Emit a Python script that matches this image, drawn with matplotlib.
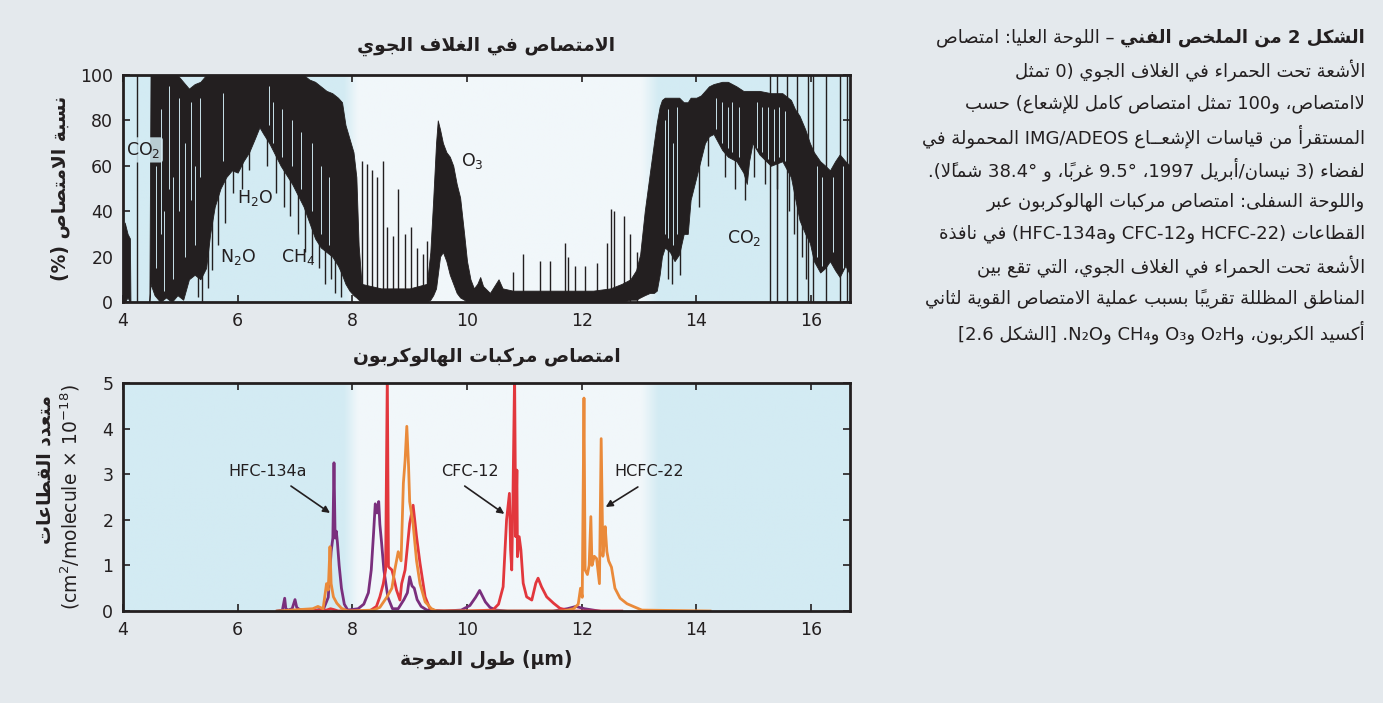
import re
import numpy as np
import matplotlib
matplotlib.use('Agg')
import matplotlib.pyplot as plt
from matplotlib.colors import LinearSegmentedColormap

# ---------------- data ----------------
# upper panel: envelope of the measured absorption spectrum (%)
atm_wl = [4.00, 4.03, 4.08, 4.12, 4.13, 4.46, 4.48, 4.55, 4.65, 4.75,
          4.85, 4.95, 5.05, 5.15, 5.25, 5.35, 5.45, 5.52, 5.60, 5.70,
          5.80, 5.90, 6.00, 6.10, 6.20, 6.30, 6.38, 6.45, 6.55, 6.65,
          6.75, 6.85, 6.95, 7.05, 7.15, 7.25, 7.35, 7.45, 7.55, 7.65,
          7.75, 7.82, 7.88, 7.95, 8.02, 8.07, 8.11, 8.16, 8.50, 9.00,
          9.30, 9.36, 9.41, 9.46, 9.49, 9.53, 9.58, 9.64, 9.70, 9.76,
          9.82, 9.88, 9.95, 10.00, 10.06, 10.12, 10.18, 10.23, 10.28, 10.40,
          10.50, 10.55, 10.62, 10.80, 11.50, 12.20, 12.50, 12.70, 12.85, 12.95,
          13.02, 13.10, 13.19, 13.26, 13.31, 13.36, 13.40, 13.45, 13.54, 13.62,
          13.70, 13.78, 13.85, 13.90, 14.00, 14.08, 14.15, 14.22, 14.30, 14.45,
          14.55, 14.70, 14.82, 14.88, 14.92, 14.98, 15.10, 15.30, 15.50, 15.65,
          15.72, 15.80, 15.90, 15.98, 16.05, 16.16, 16.25, 16.33, 16.42, 16.50,
          16.60, 16.68]
atm_hi = [25, 35, 30, 28, 0, 0, 100, 100, 100, 100,
          100, 100, 97, 94, 96, 97, 100, 100, 100, 100,
          100, 100, 100, 100, 100, 100, 100, 100, 100, 100,
          100, 100, 100, 100, 100, 98, 97, 95, 93, 92,
          90, 88, 78, 72, 66, 55, 25, 8, 6, 6,
          8, 22, 45, 70, 80, 76, 70, 66, 64, 60,
          52, 46, 30, 18, 10, 6, 8, 11, 7, 4,
          8, 10, 6, 5, 5, 5, 6, 8, 10, 14,
          21, 40, 57, 70, 79, 86, 89, 90, 90, 90,
          90, 88, 88, 90, 90, 91, 93, 95, 96, 97,
          97, 95, 93, 93, 93, 93, 93, 92, 92, 89,
          85, 82, 76, 70, 66, 62, 60, 58, 62, 65,
          62, 60]
atm_lo = [0, 0, 2, 0, 0, 0, 8, 3, 0, 2,
          0, 3, 1, 10, 12, 10, 15, 30, 42, 50,
          55, 58, 57, 62, 66, 72, 77, 74, 70, 65,
          60, 56, 52, 47, 42, 35, 28, 24, 22, 20,
          16, 12, 8, 5, 3, 2, 1, 0, 0, 0,
          0, 1, 3, 6, 12, 20, 22, 18, 12, 8,
          4, 2, 1, 0, 0, 0, 0, 0, 0, 0,
          0, 0, 0, 0, 0, 0, 0, 0, 1, 1,
          2, 3, 4, 4, 5, 12, 20, 24, 22, 18,
          21, 30, 30, 45, 55, 63, 70, 73, 74, 67,
          64, 62, 57, 52, 62, 70, 65, 60, 62, 55,
          46, 36, 30, 26, 18, 13, 15, 18, 14, 11,
          16, 12]
# single dark lines (isolated lines in the window, fringes under the bands)
line_wl = [4.24, 8.16, 8.25, 8.34, 8.43, 8.53, 8.60, 8.71, 8.80, 8.92,
           9.03, 9.12, 9.24, 9.30, 10.81, 10.98, 11.27, 11.45, 11.71, 11.76,
           11.88, 12.06, 12.26, 12.44, 12.52, 12.56, 12.73, 12.84, 12.96, 15.29,
           15.40, 15.58, 15.75, 15.95, 16.03, 16.27, 16.50, 16.62,
           5.30, 5.38, 5.48, 5.56, 5.65, 5.78, 5.92, 6.08, 6.20, 6.52,
           6.66, 6.80, 6.92, 7.05, 7.18, 7.30, 7.42, 7.52, 7.62, 7.70,
           7.80, 13.50, 13.58, 13.72, 14.05, 14.20, 14.50, 14.68, 14.85, 15.00,
           15.20, 15.40, 15.62, 15.70, 15.85, 15.92]
line_lo = [0, 0, 0, 0, 0, 0, 0, 0, 0, 0,
           0, 0, 0, 0, 0, 0, 0, 0, 0, 0,
           0, 0, 0, 0, 0, 0, 0, 0, 0, 0,
           0, 0, 0, 0, 0, 0, 0, 0,
           2, 0, 6, 14, 25, 35, 48, 50, 58, 60,
           48, 42, 38, 30, 22, 18, 15, 8, 10, 4,
           2, 10, 8, 12, 42, 60, 55, 50, 45, 55,
           52, 50, 40, 30, 20, 10]
line_hi = [100, 62, 61, 58, 55, 62, 33, 29, 50, 30,
           33, 24, 21, 27, 13, 21, 18, 18, 26, 20,
           16, 16, 17, 26, 41, 40, 38, 30, 22, 100,
           100, 100, 100, 100, 100, 100, 100, 100,
           40, 40, 50, 60, 70, 80, 80, 80, 90, 90,
           90, 90, 90, 90, 80, 80, 80, 80, 70, 70,
           70, 85, 85, 85, 85, 85, 85, 85, 85, 85,
           85, 85, 80, 75, 70, 60]
# light streaks between lines inside the dark bands
gap_wl = [4.58, 4.66, 4.72, 4.80, 4.88, 4.97, 5.08, 5.18, 5.26, 5.34,
          5.75, 6.55, 6.62, 6.78, 6.95, 7.10, 7.30, 7.45, 7.60, 13.45,
          13.50, 13.60, 13.66, 14.35, 14.45, 14.55, 14.62, 14.75, 15.05, 15.15,
          15.25, 15.35, 15.45, 15.55, 16.10, 16.20, 16.38, 16.55]
gap_lo = [15, 30, 5, 50, 10, 40, 20, 45, 25, 55,
          62, 78, 70, 64, 60, 50, 40, 30, 25, 30,
          28, 25, 30, 76, 70, 68, 66, 64, 68, 66,
          63, 62, 64, 62, 20, 16, 22, 15]
gap_hi = [60, 85, 40, 95, 55, 90, 70, 88, 60, 90,
          92, 95, 88, 85, 80, 75, 70, 60, 55, 80,
          85, 70, 86, 90, 88, 86, 88, 86, 88, 86,
          86, 85, 86, 84, 60, 55, 55, 60]

# lower panel: halocarbon absorption cross sections (1e-18 cm2/molecule)
hfc_wl = [6.69, 6.78, 6.82, 6.84, 6.88, 6.95, 7.00, 7.03, 7.08, 7.30,
          7.50, 7.58, 7.63, 7.66, 7.68, 7.70, 7.72, 7.74, 7.77, 7.81,
          7.86, 7.92, 8.10, 8.20, 8.28, 8.33, 8.37, 8.40, 8.43, 8.46,
          8.48, 8.51, 8.55, 8.62, 8.70, 8.80, 8.90, 8.96, 9.00, 9.04,
          9.08, 9.13, 9.20, 9.30, 9.60, 9.90, 10.05, 10.15, 10.22, 10.26,
          10.32, 10.40, 10.50, 10.70, 11.50, 11.75, 11.90, 12.05, 12.30]
hfc_xs = [0.0, 0.02, 0.28, 0.05, 0.02, 0.05, 0.25, 0.08, 0.03, 0.0,
          0.05, 0.3, 1.3, 1.6, 3.25, 1.6, 1.75, 1.5, 1.0, 0.5,
          0.15, 0.02, 0.05, 0.15, 0.4, 0.9, 1.7, 2.35, 2.15, 2.4,
          1.9, 1.5, 0.9, 0.3, 0.05, 0.05, 0.25, 0.4, 0.75, 0.55,
          0.5, 0.25, 0.1, 0.02, 0.0, 0.02, 0.12, 0.3, 0.45, 0.35,
          0.2, 0.08, 0.02, 0.0, 0.0, 0.05, 0.1, 0.05, 0.0]
cfc_wl = [7.00, 7.55, 7.62, 7.68, 7.75, 8.30, 8.42, 8.48, 8.54, 8.58,
          8.61, 8.63, 8.69, 8.72, 8.77, 8.83, 8.86, 8.92, 9.00, 9.06,
          9.12, 9.18, 9.27, 9.35, 9.45, 10.00, 10.45, 10.55, 10.63, 10.69,
          10.74, 10.76, 10.78, 10.80, 10.83, 10.85, 10.87, 10.88, 10.91, 10.94,
          10.98, 11.04, 11.13, 11.20, 11.24, 11.30, 11.39, 11.51, 11.62, 11.80,
          12.70]
cfc_xs = [0.0, 0.02, 0.05, 0.03, 0.0, 0.0, 0.1, 0.31, 0.6, 0.9,
          5.2, 0.97, 0.9, 0.75, 0.46, 0.24, 0.6, 0.9, 1.92, 2.32,
          1.63, 1.05, 0.31, 0.06, 0.0, 0.0, 0.02, 0.15, 0.53, 2.0,
          2.58, 1.34, 0.9, 2.36, 5.2, 1.63, 3.09, 1.19, 1.63, 1.34,
          0.61, 0.31, 0.24, 0.61, 0.72, 0.53, 0.31, 0.17, 0.06, 0.0,
          0.0]
hcfc_wl = [6.69, 7.31, 7.40, 7.49, 7.55, 7.58, 7.61, 7.63, 7.67, 7.73,
           7.81, 7.92, 8.37, 8.48, 8.60, 8.69, 8.74, 8.80, 8.85, 8.89,
           8.92, 8.95, 8.98, 9.00, 9.06, 9.12, 9.18, 9.27, 9.38, 9.47,
           11.68, 11.86, 11.94, 11.98, 12.01, 12.04, 12.06, 12.10, 12.13, 12.16,
           12.18, 12.22, 12.26, 12.31, 12.34, 12.37, 12.39, 12.41, 12.44, 12.47,
           12.52, 12.58, 12.67, 12.79, 12.90, 13.05, 14.24]
hcfc_xs = [0.0, 0.05, 0.1, 0.05, 0.6, 0.46, 1.41, 0.6, 0.31, 0.17,
           0.06, 0.0, 0.02, 0.08, 0.3, 0.5, 0.9, 1.3, 1.1, 2.8,
           3.3, 4.05, 3.2, 2.4, 1.9, 1.1, 0.6, 0.2, 0.05, 0.0,
           0.0, 0.05, 0.15, 0.5, 0.3, 4.67, 0.9, 0.8, 1.0, 2.07,
           1.0, 1.2, 1.15, 0.6, 3.78, 1.2, 1.5, 1.85, 1.3, 1.1,
           0.96, 0.5, 0.28, 0.16, 0.1, 0.02, 0.0]

# labels
title_top = "الامتصاص في الغلاف الجوي"
title_bot = "امتصاص مركبات الهالوكربون"
ylabel_top = "نسبة الامتصاص (%)"
ylabel_bot = "متعدد القطاعات"
ylabel_bot_unit = r"(cm$^2$/molecule$\,\times\,$10$^{-18}$)"
xlabel_bot = "طول الموجة (μm)"
caption_bold = "الشكل 2 من الملخص الفني"
caption_lines = [
    " – اللوحة العليا: امتصاص",
    "الأشعة تحت الحمراء في الغلاف الجوي (0 تمثل",
    "لاامتصاص، و100 تمثل امتصاص كامل للإشعاع) حسب",
    "المستقرأ من قياسات الإشعــاع IMG/ADEOS المحمولة في",
    "لفضاء (3 نيسان/أبريل 1997، 9.5° غرباً، و 38.4° شمالاً).",
    "واللوحة السفلى: امتصاص مركبات الهالوكربون عبر",
    "القطاعات (HCFC-22 وCFC-12 وHFC-134a) في نافذة",
    "الأشعة تحت الحمراء في الغلاف الجوي، التي تقع بين",
    "المناطق المظللة تقريباً بسبب عملية الامتصاص القوية لثاني",
    "أكسيد الكربون، وO₂H وO₃ وCH₄ وN₂O. [الشكل 2.6]",
]

# ---------------- minimal Arabic shaping + reordering ----------------
# matplotlib has no text shaping, so map letters to presentation forms
AR = {'ء': (0xFE80, 1), 'آ': (0xFE81, 2), 'أ': (0xFE83, 2), 'ؤ': (0xFE85, 2),
      'إ': (0xFE87, 2), 'ئ': (0xFE89, 4), 'ا': (0xFE8D, 2), 'ب': (0xFE8F, 4),
      'ة': (0xFE93, 2), 'ت': (0xFE95, 4), 'ث': (0xFE99, 4), 'ج': (0xFE9D, 4),
      'ح': (0xFEA1, 4), 'خ': (0xFEA5, 4), 'د': (0xFEA9, 2), 'ذ': (0xFEAB, 2),
      'ر': (0xFEAD, 2), 'ز': (0xFEAF, 2), 'س': (0xFEB1, 4), 'ش': (0xFEB5, 4),
      'ص': (0xFEB9, 4), 'ض': (0xFEBD, 4), 'ط': (0xFEC1, 4), 'ظ': (0xFEC5, 4),
      'ع': (0xFEC9, 4), 'غ': (0xFECD, 4), 'ف': (0xFED1, 4), 'ق': (0xFED5, 4),
      'ك': (0xFED9, 4), 'ل': (0xFEDD, 4), 'م': (0xFEE1, 4), 'ن': (0xFEE5, 4),
      'ه': (0xFEE9, 4), 'و': (0xFEED, 2), 'ى': (0xFEEF, 2), 'ي': (0xFEF1, 4)}
LAM_ALEF = {'آ': (0xFEF5, 0xFEF6), 'أ': (0xFEF7, 0xFEF8),
            'إ': (0xFEF9, 0xFEFA), 'ا': (0xFEFB, 0xFEFC)}
MARKS = set(chr(c) for c in range(0x064B, 0x0653))
TATWEEL = 'ـ'
MIRROR = {'(': ')', ')': '(', '[': ']', ']': '['}


def joins_next(c):
    return c == TATWEEL or (c in AR and AR[c][1] == 4)


def shape(s):
    out = []
    i = 0
    while i < len(s):
        c = s[i]
        if c not in AR:
            out.append(c)
            i += 1
            continue
        j = i - 1
        while j >= 0 and s[j] in MARKS:
            j -= 1
        prev_join = j >= 0 and joins_next(s[j])
        k = i + 1
        while k < len(s) and s[k] in MARKS:
            k += 1
        nxt = s[k] if k < len(s) else None
        if c == 'ل' and nxt in LAM_ALEF:
            iso, fin = LAM_ALEF[nxt]
            out.append(chr(fin if prev_join else iso))
            out.extend(s[i + 1:k])
            i = k + 1
            continue
        start, n = AR[c]
        next_join = n == 4 and nxt is not None and (nxt in AR or nxt == TATWEEL)
        if n == 1:
            f = start
        elif prev_join and next_join:
            f = start + 3
        elif prev_join:
            f = start + 1
        elif next_join:
            f = start + 2
        else:
            f = start
        out.append(chr(f))
        i += 1
    return ''.join(out)


def flip(t):
    # reverse a right-to-left run, keeping combining marks after their base
    clusters = []
    for c in t:
        if c in MARKS and clusters:
            clusters[-1] += c
        else:
            clusters.append(MIRROR.get(c, c))
    return ''.join(reversed(clusters))


LTR_RE = re.compile(r'[A-Za-z0-9\u2080-\u2089\u00b5\u03bc]+'
                    r'(?:[-./][A-Za-z0-9\u2080-\u2089]+)*\u00b0?')
ARAB_RE = re.compile(r'[\u0600-\u06FF\uFE70-\uFEFF]+(?:\s+[\u0600-\u06FF\uFE70-\uFEFF]+)*')


def ar(s, rtl=True):
    s = shape(s)
    if not rtl:
        return ARAB_RE.sub(lambda m: flip(m.group()), s)
    parts, pos = [], 0
    for m in LTR_RE.finditer(s):
        if m.start() > pos:
            parts.append(flip(s[pos:m.start()]))
        parts.append(m.group())
        pos = m.end()
    if pos < len(s):
        parts.append(flip(s[pos:]))
    return ''.join(reversed(parts))


# ---------------- figure ----------------
W, H = 1383, 703
ink = '#231f20'
bg = '#e4e9ed'
shade = '#d3ebf3'
window = '#f1f7fa'
plt.rcParams['font.family'] = ['DejaVu Sans']
plt.rcParams['text.color'] = ink
plt.rcParams['axes.edgecolor'] = ink
plt.rcParams['xtick.color'] = ink
plt.rcParams['ytick.color'] = ink

fig = plt.figure(figsize=(W / 100, H / 100), dpi=100, facecolor=bg)
ax1 = fig.add_axes([123 / W, 1 - 302 / H, 727 / W, 227 / H])
ax2 = fig.add_axes([123 / W, 1 - 611 / H, 727 / W, 228 / H])


def fx(px):
    return px / W


def fy(px):
    return 1 - px / H


cmap = LinearSegmentedColormap.from_list('win', [shade, window])
xs = np.linspace(4, 16.68, 600)
win = np.clip(np.minimum((xs - 7.85) / 0.25, (13.35 - xs) / 0.3), 0, 1)


def style(ax, ymax, yticks):
    ax.imshow(win[None, :], extent=[4, 16.68, 0, ymax], aspect='auto',
              cmap=cmap, vmin=0, vmax=1, zorder=0, interpolation='bilinear')
    ax.set_xlim(4, 16.68)
    ax.set_ylim(0, ymax)
    ax.set_xticks([4, 6, 8, 10, 12, 14, 16])
    ax.set_yticks(yticks)
    ax.tick_params(direction='in', top=True, right=True, length=5, width=1.2,
                   labelsize=12.5, pad=7)
    for sp in ax.spines.values():
        sp.set_linewidth(2)
        sp.set_zorder(5)


# upper panel
style(ax1, 100, [0, 20, 40, 60, 80, 100])
ax1.fill_between(atm_wl, atm_lo, atm_hi, color=ink, lw=0.6, zorder=2)
ax1.vlines(line_wl, line_lo, line_hi, color=ink, lw=1.0, zorder=2)
ax1.vlines(gap_wl, gap_lo, gap_hi, color='#c9e2ea', lw=0.7, zorder=2.5)
halo = dict(boxstyle='round,pad=0.15', fc=shade, ec='none', alpha=0.85)
ax1.text(4.35, 67, 'CO$_2$', fontsize=12.5, ha='center', va='center', bbox=halo, zorder=4)
ax1.text(6.3, 46, 'H$_2$O', fontsize=12.5, ha='center', va='center', zorder=4)
ax1.text(6.0, 20, 'N$_2$O', fontsize=12.5, ha='center', va='center', zorder=4)
ax1.text(7.05, 20, 'CH$_4$', fontsize=12.5, ha='center', va='center', zorder=4)
ax1.text(10.1, 62, 'O$_3$', fontsize=12.5, ha='center', va='center', zorder=4)
ax1.text(14.83, 28, 'CO$_2$', fontsize=12.5, ha='center', va='center', zorder=4)

# lower panel
style(ax2, 5, [0, 1, 2, 3, 4, 5])
ax2.plot(hfc_wl, hfc_xs, color='#7a2f7d', lw=2, zorder=2)
ax2.plot(cfc_wl, cfc_xs, color='#e2373d', lw=2, zorder=3)
ax2.plot(hcfc_wl, hcfc_xs, color='#ea8a3a', lw=2, zorder=3)
arrow = dict(arrowstyle='-|>', color=ink, lw=1.2, mutation_scale=10, shrinkA=0, shrinkB=0)
ax2.text(6.53, 3.05, 'HFC-134a', fontsize=11.5, ha='center', va='center')
ax2.annotate('', xy=(7.61, 2.15), xytext=(6.93, 2.74), arrowprops=arrow)
ax2.text(10.05, 3.05, 'CFC-12', fontsize=11.5, ha='center', va='center')
ax2.annotate('', xy=(10.65, 2.13), xytext=(9.96, 2.74), arrowprops=arrow)
ax2.text(13.17, 3.05, 'HCFC-22', fontsize=11.5, ha='center', va='center')
ax2.annotate('', xy=(12.42, 2.28), xytext=(12.98, 2.72), arrowprops=arrow)

# titles and axis labels placed in figure pixels
mid = fx((123 + 850) / 2)
fig.text(mid, fy(46), ar(title_top), fontsize=13.5, fontweight='bold', ha='center', va='center')
fig.text(mid, fy(357), ar(title_bot), fontsize=13.5, fontweight='bold', ha='center', va='center')
fig.text(mid, fy(659), ar(xlabel_bot, rtl=False), fontsize=13.5, fontweight='bold',
         ha='center', va='center')
fig.text(fx(60), fy(188), ar(ylabel_top), fontsize=13.5, fontweight='bold',
         rotation=90, ha='center', va='center')
fig.text(fx(45), fy(470), ar(ylabel_bot), fontsize=13.5, fontweight='bold',
         rotation=90, ha='center', va='center')
fig.text(fx(70), fy(497), ylabel_bot_unit, fontsize=13.5,
         rotation=90, ha='center', va='center')

# caption on the right, one text per line, right aligned
right = fx(1365)
y0, dy = 38, 32.7
fig.canvas.draw()
rend = fig.canvas.get_renderer()
tb = fig.text(right, fy(y0), ar(caption_bold), fontsize=13, fontweight='bold',
              ha='right', va='center')
bb = tb.get_window_extent(rend)
fig.text(bb.x0 / W, fy(y0), ar(caption_lines[0]), fontsize=13, ha='right', va='center')
for k, line in enumerate(caption_lines[1:], start=1):
    fig.text(right, fy(y0 + k * dy), ar(line), fontsize=13, ha='right', va='center')

fig.savefig('out.png', dpi=100, facecolor=bg)
